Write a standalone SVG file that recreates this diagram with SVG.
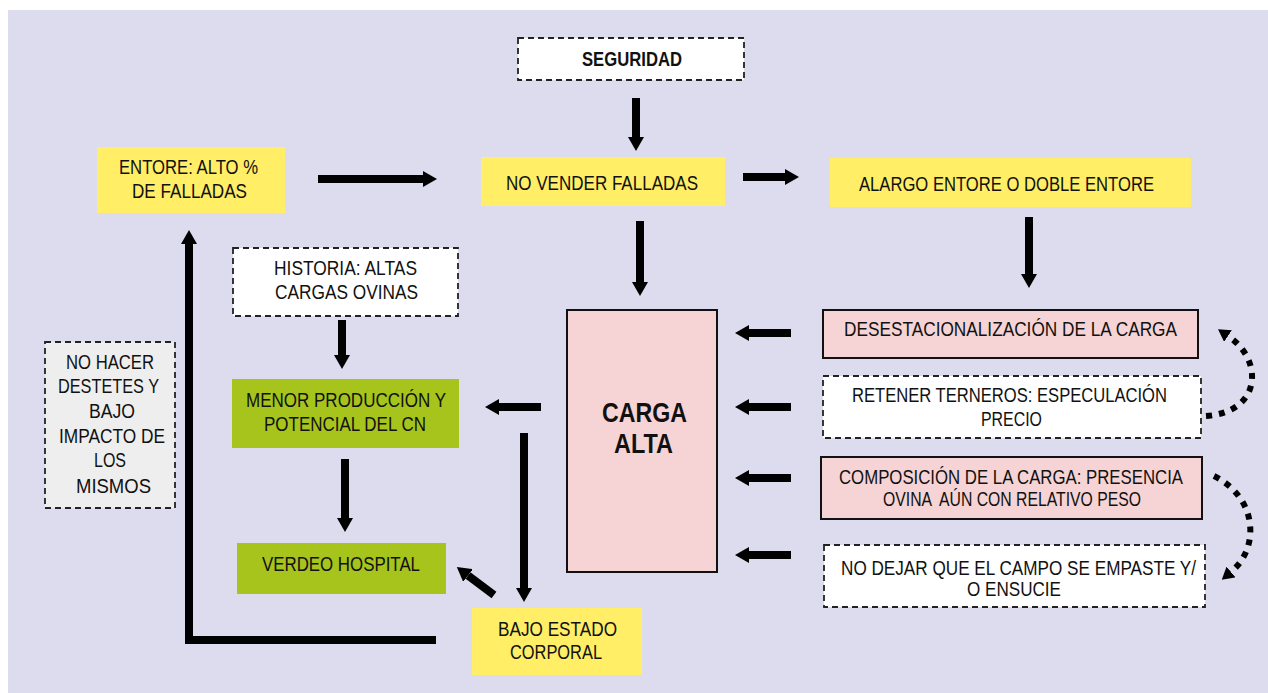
<svg xmlns="http://www.w3.org/2000/svg" width="1268" height="693" viewBox="0 0 1268 693">
<style>
text{font-family:"Liberation Sans",Arial,sans-serif;font-size:20.5px;fill:#111;}
.b{font-weight:bold;}
.big{font-size:28px;font-weight:bold;}
.yel{fill:#ffee66;}
.grn{fill:#a6c41c;}
.pnk{fill:#f6d4d5;stroke:#111;stroke-width:2;}
.dsh{fill:#ffffff;stroke:#222;stroke-width:1.8;stroke-dasharray:6 4;}
.gry{fill:#eeeeee;stroke:#222;stroke-width:1.8;stroke-dasharray:6 4;}
.arr{fill:none;stroke:#000;stroke-width:8;marker-end:url(#ah);}
.dot{fill:none;stroke:#000;stroke-width:6;stroke-dasharray:6 7;marker-end:url(#ahs);}
</style>
<defs>
<marker id="ah" markerUnits="userSpaceOnUse" viewBox="0 0 14 16" refX="0" refY="8" markerWidth="14" markerHeight="16" orient="auto"><path d="M0,0 L14,8 L0,16 Z" fill="#000"/></marker>
<marker id="ahs" markerUnits="userSpaceOnUse" viewBox="0 0 12 14" refX="0" refY="7" markerWidth="12" markerHeight="14" orient="auto"><path d="M0,0 L12,7 L0,14 Z" fill="#000"/></marker>
</defs>
<rect x="0" y="0" width="1268" height="693" fill="#ffffff"/>
<rect x="8" y="10" width="1260" height="683" fill="#dcdcee"/>

<g id="connectors">
<path class="arr" d="M318,179 H423"/>
<path class="arr" d="M636,98 V137"/>
<path class="arr" d="M743,177 H785"/>
<path class="arr" d="M640,221 V282"/>
<path class="arr" d="M1029,217 V274"/>
<path class="arr" d="M791,333 H749"/>
<path class="arr" d="M791,407 H749"/>
<path class="arr" d="M791,478 H749"/>
<path class="arr" d="M791,555 H749"/>
<path class="arr" d="M541,407 H499"/>
<path class="arr" d="M524,433 V588"/>
<path class="arr" d="M494,595 L468,575.5"/>
<path class="arr" d="M342,320 V355"/>
<path class="arr" d="M345,459 V518"/>
<path class="arr" style="stroke-linejoin:miter" d="M436,640 H189 V244"/>
<path class="dot" d="M1206,416 C1262,412 1264,360 1228,336"/>
<path class="dot" d="M1214,476 C1258,498 1260,548 1231,572"/>
</g>

<g id="seguridad">
<rect class="dsh" x="518" y="38" width="226" height="42"/>
<text class="b" x="582" y="66" textLength="100" lengthAdjust="spacingAndGlyphs">SEGURIDAD</text>
</g>

<g id="entore">
<rect class="yel" x="97" y="147" width="188" height="66"/>
<text x="119" y="174" textLength="139" lengthAdjust="spacingAndGlyphs">ENTORE: ALTO %</text>
<text x="132" y="198" textLength="115" lengthAdjust="spacingAndGlyphs">DE FALLADAS</text>
</g>

<g id="no-vender">
<rect class="yel" x="481" y="157" width="244" height="49"/>
<text x="506" y="190" textLength="192" lengthAdjust="spacingAndGlyphs">NO VENDER FALLADAS</text>
</g>

<g id="alargo">
<rect class="yel" x="830" y="158" width="361" height="49"/>
<text x="859" y="191" textLength="295" lengthAdjust="spacingAndGlyphs">ALARGO ENTORE O DOBLE ENTORE</text>
</g>

<g id="carga-alta">
<rect class="pnk" x="567" y="310" width="150" height="262"/>
<text class="big" x="602" y="422" textLength="85" lengthAdjust="spacingAndGlyphs">CARGA</text>
<text class="big" x="614" y="453" textLength="59" lengthAdjust="spacingAndGlyphs">ALTA</text>
</g>

<g id="desestacionalizacion">
<rect class="pnk" x="823" y="310" width="375" height="48"/>
<text x="844" y="336" textLength="333" lengthAdjust="spacingAndGlyphs">DESESTACIONALIZACIÓN DE LA CARGA</text>
</g>

<g id="retener">
<rect class="dsh" x="823" y="376" width="378" height="62"/>
<text x="852" y="402" textLength="315" lengthAdjust="spacingAndGlyphs">RETENER TERNEROS: ESPECULACIÓN</text>
<text x="981" y="426" textLength="61" lengthAdjust="spacingAndGlyphs">PRECIO</text>
</g>

<g id="composicion">
<rect class="pnk" x="821" y="457" width="381" height="62"/>
<text x="839" y="484" textLength="344" lengthAdjust="spacingAndGlyphs">COMPOSICIÓN DE LA CARGA: PRESENCIA</text>
<text x="883" y="506" textLength="258" lengthAdjust="spacingAndGlyphs" style="white-space:pre">OVINA  AÚN CON RELATIVO PESO</text>
</g>

<g id="no-dejar">
<rect class="dsh" x="824" y="545" width="381" height="62"/>
<text x="841" y="575" textLength="355" lengthAdjust="spacingAndGlyphs">NO DEJAR QUE EL CAMPO SE EMPASTE Y/</text>
<text x="967" y="596" textLength="94" lengthAdjust="spacingAndGlyphs">O ENSUCIE</text>
</g>

<g id="historia">
<rect class="dsh" x="233" y="248" width="225" height="68"/>
<text x="274" y="275" textLength="143" lengthAdjust="spacingAndGlyphs">HISTORIA: ALTAS</text>
<text x="275" y="299" textLength="143" lengthAdjust="spacingAndGlyphs">CARGAS OVINAS</text>
</g>

<g id="menor-produccion">
<rect class="grn" x="232" y="379" width="227" height="69"/>
<text x="246" y="407" textLength="200" lengthAdjust="spacingAndGlyphs">MENOR PRODUCCIÓN Y</text>
<text x="264" y="431" textLength="162" lengthAdjust="spacingAndGlyphs">POTENCIAL DEL CN</text>
</g>

<g id="verdeo">
<rect class="grn" x="237" y="543" width="209" height="51"/>
<text x="262" y="571" textLength="158" lengthAdjust="spacingAndGlyphs">VERDEO HOSPITAL</text>
</g>

<g id="bajo-estado">
<rect class="yel" x="472" y="608" width="170" height="67"/>
<text x="498" y="636" textLength="119" lengthAdjust="spacingAndGlyphs">BAJO ESTADO</text>
<text x="510" y="659" textLength="92" lengthAdjust="spacingAndGlyphs">CORPORAL</text>
</g>

<g id="no-hacer">
<rect class="gry" x="45" y="342" width="130" height="166"/>
<text x="66" y="369" textLength="88" lengthAdjust="spacingAndGlyphs">NO HACER</text>
<text x="58" y="393" textLength="101" lengthAdjust="spacingAndGlyphs">DESTETES Y</text>
<text x="89" y="418" textLength="46" lengthAdjust="spacingAndGlyphs">BAJO</text>
<text x="59" y="443" textLength="106" lengthAdjust="spacingAndGlyphs">IMPACTO DE</text>
<text x="94" y="467" textLength="32" lengthAdjust="spacingAndGlyphs">LOS</text>
<text x="76" y="493" textLength="75" lengthAdjust="spacingAndGlyphs">MISMOS</text>
</g>
</svg>
